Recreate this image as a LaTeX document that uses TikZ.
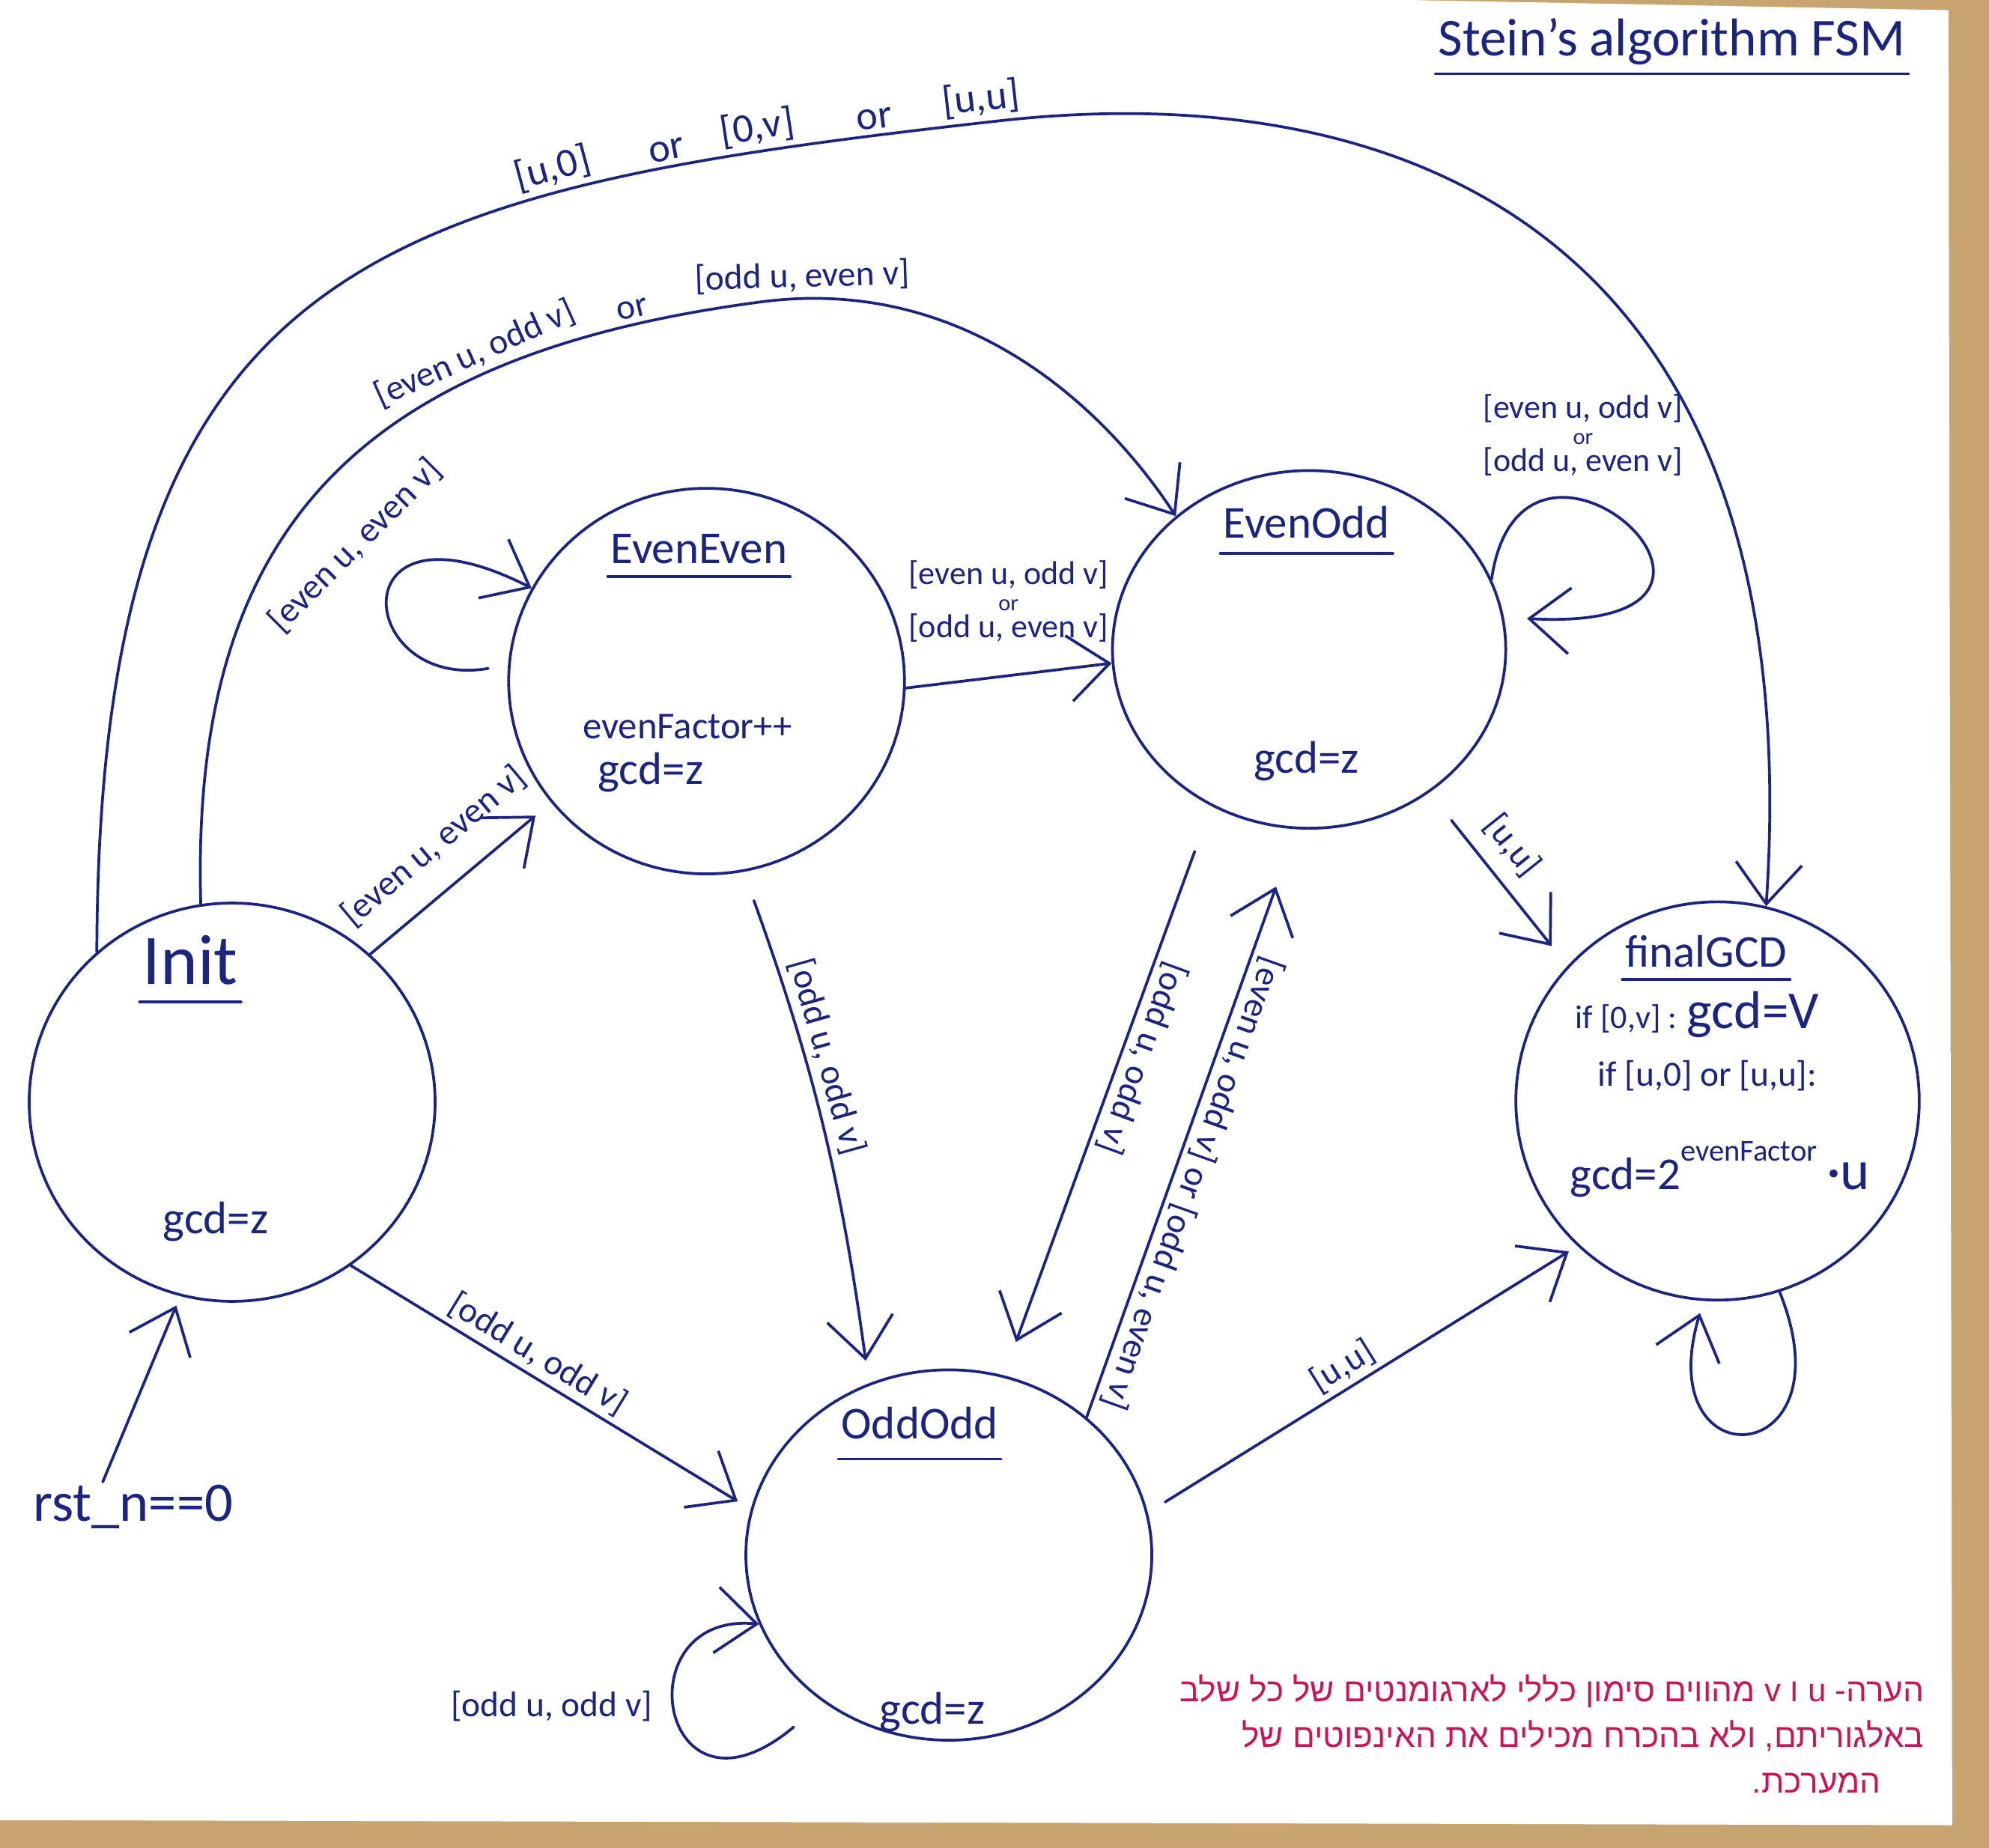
\documentclass[tikz,border=0pt]{standalone}
\usepackage{fontspec}
\setmainfont{Carlito}
\newfontfamily\hebfont[Script=Hebrew]{Liberation Sans}
\TeXXeTstate=1
\usepackage{tikz}
\usetikzlibrary{arrows.meta,positioning,shapes.geometric,calc}
\definecolor{ink}{RGB}{28,36,125}
\definecolor{remarkred}{RGB}{198,24,88}
\definecolor{board}{RGB}{200,165,112}
\tikzset{
  >={Straight Barb[length=16pt,width=26pt]},
  state/.style={draw=ink, ellipse, line width=1.1pt, inner sep=0pt},
  stname/.style={text=ink, font=\fontsize{18}{20}\selectfont, inner sep=1pt},
  uline/.style={draw=ink, line width=1.1pt, line cap=round},
  body/.style={text=ink, font=\fontsize{18}{20}\selectfont, inner sep=1pt},
  lbl/.style={text=ink, font=\fontsize{14}{15}\selectfont, inner sep=2pt},
  arcw/.style={lbl, sloped, above, font=\fontsize{16}{17}\selectfont},
  stack/.style={lbl, align=center, font=\fontsize{13}{10.5}\selectfont},
  trans/.style={draw=ink, line width=1.1pt, line cap=round, line join=round},
  remark/.style={text=remarkred, align=right, font=\hebfont\fontsize{13}{18}\selectfont, inner sep=0pt},
}

\begin{document}
\begin{tikzpicture}[x=0.5pt, y=0.5pt]
  \useasboundingbox (0,0) rectangle (1568,-1457);
  \fill[board] (0,0) rectangle (1568,-1457);
  \fill[white] (0,0) -- (1110,0) -- (1536,-8) -- (1539,-1439) -- (0,-1435) -- cycle;

  % states
  \node[state, minimum width=160pt, minimum height=157pt] (init) at (183,-869) {};
  \node[state, minimum width=156pt, minimum height=152pt] (eveneven) at (557,-537) {};
  \node[state, minimum width=155pt, minimum height=141pt] (evenodd) at (1032,-512) {};
  \node[state, minimum width=160pt, minimum height=146pt] (oddodd) at (748,-1226) {};
  \node[state, minimum width=159pt, minimum height=157pt] (final) at (1354,-868) {};

  \node[stname, font=\fontsize{21}{23}\selectfont] (title) at (1318,-33) {Stein's algorithm FSM};

  \node[stname, font=\fontsize{28}{30}\selectfont] (initname) at (150,-757) {Init};
  \node[body] (initbody) at (170,-963) {gcd=z};
  \node[stname] (eename) at (551,-433) {EvenEven};
  \node[body, anchor=west, align=left, font=\fontsize{15}{17}\selectfont] (eebody) at (457,-594)
    {evenFactor++\\[1pt]\hspace*{6pt}{\fontsize{18}{18}\selectfont gcd=z}};
  \node[stname] (eoname) at (1030,-412) {EvenOdd};
  \node[body] (eobody) at (1030,-600) {gcd=z};
  \node[stname] (ooname) at (725,-1122) {OddOdd};
  \node[body] (oobody) at (735,-1350) {gcd=z};
  \node[stname] (fname) at (1345,-750) {finalGCD};
  \node[body, font=\fontsize{13}{15}\selectfont] (fifzero) at (1338,-800) {if [0,v] : {\fontsize{21}{22}\selectfont gcd=V}};
  \node[body, font=\fontsize{14}{16}\selectfont] (fifu) at (1346,-848) {if [u,0] or [u,u]:};
  \node[body] (fgcd) at (1356,-922) {gcd=2\raisebox{11pt}{\fontsize{12}{13}\selectfont evenFactor}{\fontsize{22}{22}\selectfont\,·u}};

  % underlines of the names
  \foreach \n/\d in {title/7pt, initname/7pt, eename/5pt, eoname/6pt, ooname/8pt, fname/5pt}
    \draw[uline] ([yshift=-\d]\n.base west) -- ([yshift=-\d]\n.base east);

  \node[body, font=\fontsize{22}{24}\selectfont] (rst) at (105,-1188) {rst\_n==0};

  % transitions
  \draw[trans, ->] (init.132) .. controls (78,-200) and (300,-150) .. (790,-95)
      node[arcw, pos=0.72] (uz) {[u,0]}
      node[arcw, pos=0.80] (or1) {or}
      node[arcw, pos=0.86] (zv) {[0,v]}
      node[arcw, pos=0.93] (or2) {or}
      node[arcw, pos=0.99] (uu) {[u,u]}
    .. controls (1110,-60) and (1428,-185) .. (final.76);
  \draw[trans, ->] (init.99) .. controls (150,-420) and (280,-280) .. (600,-238)
      node[lbl, sloped, above, pos=0.73] (eoa) {[even u, odd v]}
      node[lbl, sloped, above, pos=0.89] (eob) {or}
    .. controls (760,-217) and (870,-320) .. (evenodd.135)
      node[lbl, sloped, above, pos=0.07] (eoc) {[odd u, even v]};

  \draw[trans, ->] ($(eveneven.180)+(-15,10)$) .. controls (280,-545) and (265,-385) .. (eveneven.152);
  \node[lbl, rotate=45] (eeloop) at (280,-430) {[even u, even v]};

  \draw[trans, ->, shorten >=8pt] (init.47) -- node[lbl, sloped, above=8pt] (ieelbl) {[even u, even v]} (eveneven.218);

  \draw[trans, ->] (eveneven.358) -- (evenodd.184);
  \node[stack] (eeeolbl) at (795,-474) {[even u, odd v]\\{\fontsize{9}{9}\selectfont or}\\{[odd u, even v]}};

  \draw[trans, ->] (evenodd.21) .. controls (1200,-290) and (1430,-500) .. ($(evenodd.9)+(18,0)$);
  \node[stack] (eoloop) at (1248,-343) {[even u, odd v]\\{\fontsize{9}{9}\selectfont or}\\{[odd u, even v]}};

  \draw[trans, ->, shorten <=12pt, shorten >=9pt] (eveneven.281) to[bend left=6]
    node[lbl, sloped, above=0pt, pos=0.37] (eeoolbl) {[odd u, odd v]} (oddodd.115);
  \draw[trans, ->, shorten <=19pt, shorten >=14pt] (evenodd.238) --
    node[lbl, sloped, allow upside down, above=0pt, pos=0.43] (eooolbl) {[odd u, odd v]} (oddodd.73);
  \draw[trans, <-, shorten <=24pt] (evenodd.266) --
    node[lbl, sloped, allow upside down, above=0pt, pos=0.59] (ooeolbl) {[even u, odd v] or [odd u, even v]} (oddodd.45);
  \draw[trans, ->, shorten <=14pt, shorten >=10pt] (evenodd.310) --
    node[lbl, sloped, above=4pt, pos=0.42] (eoflbl) {[u,u]} (final.138);
  \draw[trans, ->, shorten >=6pt] (init.306) --
    node[lbl, sloped, above, pos=0.44] (ioolbl) {[odd u, odd v]} (oddodd.167);
  \draw[trans, ->, shorten <=8pt, shorten >=4pt] (oddodd.12) --
    node[lbl, sloped, above, pos=0.48] (ooflbl) {[u,u]} (final.226);

  \draw[trans, ->] ($(oddodd.228)+(-20,-22)$) .. controls (520,-1450) and (490,-1270) .. (oddodd.200);
  \node[lbl] (ooloop) at (435,-1345) {[odd u, odd v]};

  \draw[trans, ->, shorten >=5pt] (final.288) .. controls (1460,-1160) and (1300,-1170) .. (final.266);

  \draw[trans, ->, shorten >=4pt] ([xshift=-12pt]rst.north) -- (init.255);

  % note
  \node[remark, anchor=north east] (remark) at (1517,-1320)
    {\beginR הערה- u ו v מהווים סימון כללי לארגומנטים של כל שלב\endR\\
     \beginR באלגוריתם, ולא בהכרח מכילים את האינפוטים של\endR\\
     \beginR המערכת.\endR\hspace*{17pt}};
\end{tikzpicture}
\end{document}
